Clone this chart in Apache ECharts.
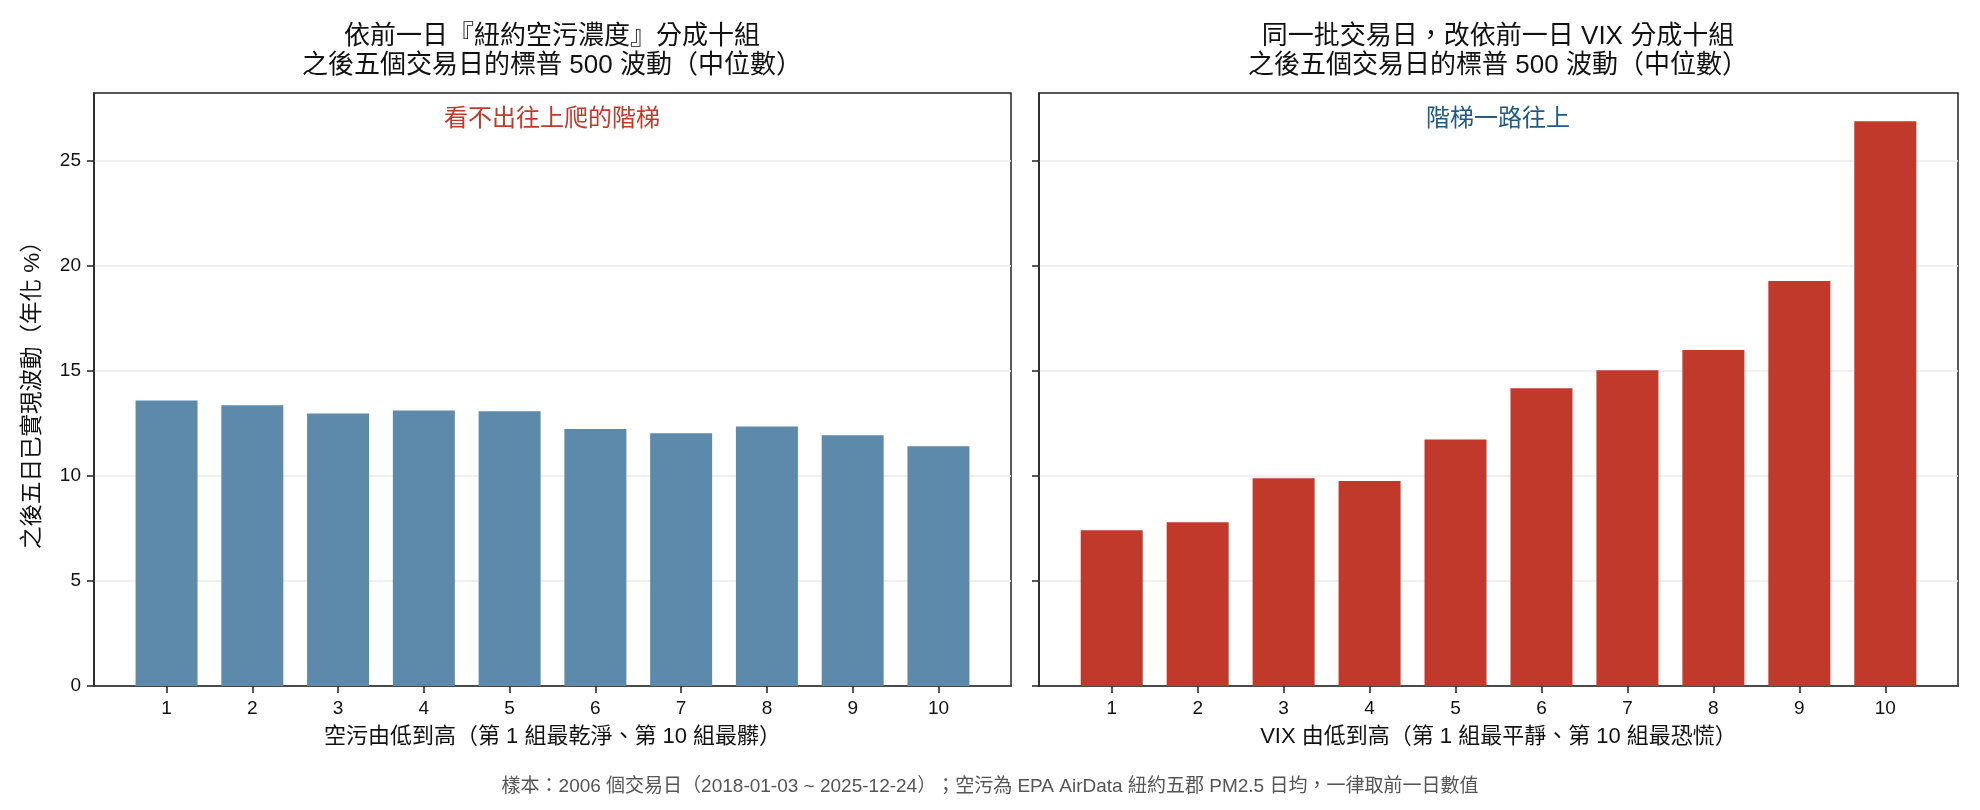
<!DOCTYPE html>
<html>
<head>
<meta charset="utf-8">
<script src="https://cdn.jsdelivr.net/npm/echarts@6/dist/echarts.min.js"></script>
<style>
  html, body { margin: 0; padding: 0; background: #fff; }
  #chart { width: 1980px; height: 810px; }
</style>
</head>
<body>
<div id="chart"></div>
<script>
// groups 1..10 (deciles)
const groups = [1, 2, 3, 4, 5, 6, 7, 8, 9, 10];
// median annualized 5-day realized vol, sorted by prior-day NYC air pollution
const airVol = [13.59, 13.36, 12.97, 13.12, 13.08, 12.23, 12.03, 12.35, 11.94, 11.41];
// same days, sorted by prior-day VIX
const vixVol = [7.42, 7.80, 9.89, 9.76, 11.74, 14.17, 15.03, 15.99, 19.28, 26.89];
const yTicks = [0, 5, 10, 15, 20, 25];

const font = "'Liberation Sans', 'Noto Sans CJK TC', sans-serif";
const black = "#222";

function xAxisFor(idx, name) {
  return {
    type: "value",
    gridIndex: idx,
    min: 0.154,
    max: 10.846,
    name: name,
    nameLocation: "middle",
    nameGap: 40,
    nameTextStyle: { fontSize: 22, color: "#111", fontFamily: font },
    axisLine: { show: true, onZero: false, lineStyle: { color: black, width: 1.5 } },
    axisTick: { show: true, length: 7, customValues: groups, lineStyle: { color: black, width: 1.5 } },
    axisLabel: { customValues: groups, margin: 13, fontSize: 19, color: "#111", fontFamily: font },
    splitLine: { show: false },
  };
}

function yAxisFor(idx, showLabels) {
  return {
    type: "value",
    gridIndex: idx,
    min: 0,
    max: 28.23,
    interval: 5,
    name: showLabels ? "之後五日已實現波動（年化 %）" : "",
    nameLocation: "middle",
    nameGap: 50,
    nameTextStyle: { fontSize: 22.5, color: "#111", fontFamily: font },
    axisLine: { show: true, lineStyle: { color: black, width: 1.5 } },
    axisTick: { show: true, length: 7, customValues: yTicks, lineStyle: { color: black, width: 1.5 } },
    axisLabel: { show: showLabels, customValues: yTicks, margin: 13, fontSize: 19, color: "#111", fontFamily: font },
    splitLine: { show: true, lineStyle: { color: "#ebebeb", width: 1.5 } },
  };
}

const chart = echarts.init(document.getElementById("chart"));
const option = {
  animation: false,
  backgroundColor: "#fff",
  title: [
    {
      text: "依前一日『紐約空污濃度』分成十組\n之後五個交易日的標普 500 波動（中位數）",
      left: 552, top: 22, textAlign: "center", padding: 0,
      textStyle: { fontSize: 26, lineHeight: 29, fontWeight: "normal", color: "#111", fontFamily: font },
    },
    {
      text: "同一批交易日，改依前一日 VIX 分成十組\n之後五個交易日的標普 500 波動（中位數）",
      left: 1498, top: 22, textAlign: "center", padding: 0,
      textStyle: { fontSize: 26, lineHeight: 29, fontWeight: "normal", color: "#111", fontFamily: font },
    },
    {
      text: "看不出往上爬的階梯",
      left: 552, top: 107, textAlign: "center", padding: 0,
      textStyle: { fontSize: 24, fontWeight: "normal", color: "#c0392b", fontFamily: font },
    },
    {
      text: "階梯一路往上",
      left: 1498, top: 107, textAlign: "center", padding: 0,
      textStyle: { fontSize: 24, fontWeight: "normal", color: "#1f5a85", fontFamily: font },
    },
    {
      text: "樣本：2006 個交易日（2018-01-03 ~ 2025-12-24）；空污為 EPA AirData 紐約五郡 PM2.5 日均，一律取前一日數值",
      left: 990, top: 777, textAlign: "center", padding: 0,
      textStyle: { fontSize: 19, fontWeight: "normal", color: "#555", fontFamily: font },
    },
  ],
  grid: [
    { left: 94, top: 93, width: 917, height: 593, show: true, borderColor: black, borderWidth: 1.5 },
    { left: 1039, top: 93, width: 919, height: 593, show: true, borderColor: black, borderWidth: 1.5 },
  ],
  xAxis: [
    xAxisFor(0, "空污由低到高（第 1 組最乾淨、第 10 組最髒）"),
    xAxisFor(1, "VIX 由低到高（第 1 組最平靜、第 10 組最恐慌）"),
  ],
  yAxis: [yAxisFor(0, true), yAxisFor(1, false)],
  series: [
    {
      type: "bar",
      xAxisIndex: 0,
      yAxisIndex: 0,
      barWidth: 62,
      itemStyle: { color: "#5d8aaa" },
      data: groups.map((g, i) => [g, airVol[i]]),
    },
    {
      type: "bar",
      xAxisIndex: 1,
      yAxisIndex: 1,
      barWidth: 62,
      itemStyle: { color: "#c0392b" },
      data: groups.map((g, i) => [g, vixVol[i]]),
    },
  ],
};
chart.setOption(option);
</script>
</body>
</html>
